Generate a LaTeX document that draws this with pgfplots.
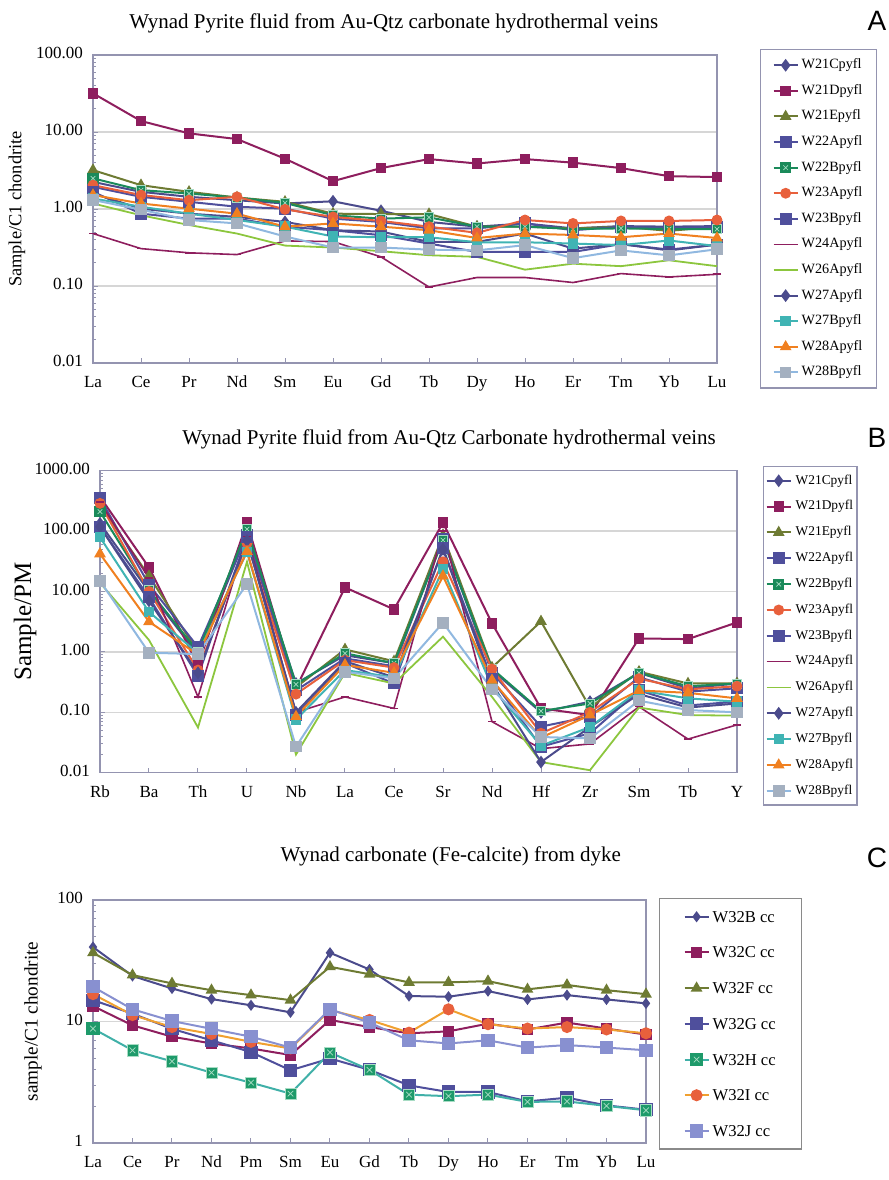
\documentclass[border=0pt]{standalone}
\usepackage{pgfplots}
\pgfplotsset{compat=1.18}
\usepackage{fontspec}
\setmainfont{Liberation Serif}
\newfontfamily\panelfont{Liberation Sans}

\definecolor{framec}{HTML}{9494B0}
\definecolor{gridc}{HTML}{D6D6D6}
\definecolor{navy}{HTML}{4B4B8C}
\definecolor{maroon}{HTML}{8E1E5E}
\definecolor{olive}{HTML}{6E7B33}
\definecolor{bluesq}{HTML}{4F4F9C}
\definecolor{greensq}{HTML}{1A8A5A}
\definecolor{greenH}{HTML}{1E9A6A}
\definecolor{tealH}{HTML}{40B0A8}
\definecolor{xlight}{HTML}{A8DCC4}
\definecolor{orangered}{HTML}{E8603C}
\definecolor{orangeI}{HTML}{F0A030}
\definecolor{lime}{HTML}{8CC63E}
\definecolor{teal}{HTML}{40B4B4}
\definecolor{orangeA}{HTML}{F08020}
\definecolor{graysq}{HTML}{A4B0C0}
\definecolor{lightblue}{HTML}{90B8E0}
\definecolor{lavender}{HTML}{8890D0}
\definecolor{legC}{HTML}{8A8A8A}

\pgfdeclareplotmark{sqx}{%
  \pgfpathrectangle{\pgfqpoint{-\pgfplotmarksize}{-\pgfplotmarksize}}{\pgfqpoint{2\pgfplotmarksize}{2\pgfplotmarksize}}%
  \pgfusepathqfillstroke
  \pgfsetlinewidth{0.35pt}\pgfsetstrokecolor{xlight}%
  \pgfpathmoveto{\pgfqpoint{-0.5\pgfplotmarksize}{-0.5\pgfplotmarksize}}\pgfpathlineto{\pgfqpoint{0.5\pgfplotmarksize}{0.5\pgfplotmarksize}}%
  \pgfpathmoveto{\pgfqpoint{-0.5\pgfplotmarksize}{0.5\pgfplotmarksize}}\pgfpathlineto{\pgfqpoint{0.5\pgfplotmarksize}{-0.5\pgfplotmarksize}}%
  \pgfusepathqstroke}

\pgfplotsset{
  legend image code/.code={\draw[mark repeat=2,mark phase=2,#1] plot coordinates {(0pt,0pt) (6pt,0pt) (12pt,0pt)};},
  every axis/.append style={scale only axis, clip=false,
    axis line style={draw=framec, line width=0.6pt},
    ymajorgrids, grid style={draw=gridc, line width=0.7pt},
    xtick pos=bottom, ytick pos=left,
    tick style={draw=framec, line width=0.5pt},
    major tick length=2.5pt, minor tick length=1.5pt,
    tick label style={font=\fontsize{8.5}{9}\selectfont},
    typeset ticklabels with strut,
    yticklabel style={xshift=-1.5pt},
    xticklabel style={yshift=-2.5pt},
    legend cell align=left},
  sC/.style={draw=navy, line width=1pt, mark=diamond*, mark size=2.4pt, mark options={solid, fill=navy, draw=navy}},
  sD/.style={draw=maroon, line width=1pt, mark=square*, mark size=2.1pt, mark options={solid, fill=maroon, draw=maroon}},
  sE/.style={draw=olive, line width=1pt, mark=triangle*, mark size=2.4pt, mark options={solid, fill=olive, draw=olive}},
  sAtt/.style={draw=bluesq, line width=1pt, mark=square*, mark size=2.5pt, mark options={solid, fill=bluesq, draw=bluesq}},
  sBtt/.style={draw=greensq, line width=1pt, mark=sqx, mark size=2.3pt, mark options={solid, fill=greensq, draw=greensq}},
  sAth/.style={draw=orangered, line width=1pt, mark=*, mark size=2.2pt, mark options={solid, fill=orangered, draw=orangered}},
  sBth/.style={draw=bluesq, line width=1pt, mark=square*, mark size=2.5pt, mark options={solid, fill=bluesq, draw=bluesq}},
  sAtf/.style={draw=maroon, line width=0.8pt, mark=-, mark size=2pt, mark options={solid, draw=maroon, line width=0.8pt}},
  sAts/.style={draw=lime, line width=0.9pt, no marks},
  sAsv/.style={draw=navy, line width=1pt, mark=diamond*, mark size=2.4pt, mark options={solid, fill=navy, draw=navy}},
  sBsv/.style={draw=teal, line width=1pt, mark=square*, mark size=2.1pt, mark options={solid, fill=teal, draw=teal}},
  sAeg/.style={draw=orangeA, line width=1pt, mark=triangle*, mark size=2.4pt, mark options={solid, fill=orangeA, draw=orangeA}},
  sBeg/.style={draw=lightblue, line width=1pt, mark=square*, mark size=2.4pt, mark options={solid, fill=graysq, draw=graysq}},
}

\begin{document}
\begin{tikzpicture}
\path[use as bounding box] (0,0) rectangle (444.5pt,-590pt);

% ---------------- A
\begin{axis}[ymode=log, at={(46.5pt,-181.5pt)}, anchor=south west, width=312pt, height=154pt,
  xmin=0, xmax=13, xtick={0,...,13},
  xticklabels={La,Ce,Pr,Nd,Sm,Eu,Gd,Tb,Dy,Ho,Er,Tm,Yb,Lu},
  ymin=0.01, ymax=100, ytick={0.01,0.1,1,10,100},
  yticklabels={0.01,0.10,1.00,10.00,100.00},
  title={Wynad Pyrite fluid from Au-Qtz carbonate hydrothermal veins},
  title style={at={(axis description cs:0.482,1.107)}, anchor=center, yshift=-6.5pt, font=\fontsize{10.5}{12}\selectfont},
  ylabel={Sample/C1 chondrite},
  ylabel style={at={(axis description cs:-0.122,0.5)}, anchor=center, font=\fontsize{9.2}{10}\selectfont},
  legend style={at={(1.069,1.019)}, anchor=north west, draw=framec, line width=0.6pt,
    font=\fontsize{7.1}{8}\selectfont, inner xsep=6pt, inner ysep=3.5pt, row sep=4.3pt,
    nodes={inner sep=1pt}, /tikz/every odd column/.append style={column sep=0.5pt}}]
\addplot[sC] coordinates {(0,2.25)(1,1.67)(2,1.44)(3,1.30)(4,1.18)(5,1.26)(6,0.95)(7,0.68)(8,0.59)(9,0.65)(10,0.56)(11,0.60)(12,0.59)(13,0.60)};
\addlegendentry{W21Cpyfl}
\addplot[sD] coordinates {(0,31.8)(1,13.9)(2,9.6)(3,8.1)(4,4.5)(5,2.3)(6,3.4)(7,4.45)(8,3.9)(9,4.45)(10,4.0)(11,3.4)(12,2.67)(13,2.6)};
\addlegendentry{W21Dpyfl}
\addplot[sE] coordinates {(0,3.2)(1,2.04)(2,1.67)(3,1.41)(4,1.24)(5,0.87)(6,0.86)(7,0.86)(8,0.59)(9,0.59)(10,0.56)(11,0.59)(12,0.52)(13,0.59)};
\addlegendentry{W21Epyfl}
\addplot[sAtt] coordinates {(0,1.94)(1,1.44)(2,1.24)(3,1.07)(4,1.01)(5,0.75)(6,0.68)(7,0.56)(8,0.56)(9,0.65)(10,0.53)(11,0.59)(12,0.56)(13,0.59)};
\addlegendentry{W22Apyfl}
\addplot[sBtt] coordinates {(0,2.5)(1,1.76)(2,1.59)(3,1.41)(4,1.2)(5,0.83)(6,0.75)(7,0.78)(8,0.59)(9,0.59)(10,0.55)(11,0.56)(12,0.55)(13,0.55)};
\addlegendentry{W22Bpyfl}
\addplot[sAth] coordinates {(0,2.04)(1,1.52)(2,1.30)(3,1.44)(4,0.99)(5,0.79)(6,0.70)(7,0.59)(8,0.49)(9,0.72)(10,0.65)(11,0.70)(12,0.70)(13,0.72)};
\addlegendentry{W23Apyfl}
\addplot[sBth] coordinates {(0,1.67)(1,0.87)(2,0.75)(3,0.75)(4,0.59)(5,0.53)(6,0.457)(7,0.356)(8,0.277)(9,0.277)(10,0.277)(11,0.35)(12,0.297)(13,0.345)};
\addlegendentry{W23Bpyfl}
\addplot[sAtf] coordinates {(0,0.48)(1,0.306)(2,0.27)(3,0.256)(4,0.385)(5,0.378)(6,0.239)(7,0.097)(8,0.129)(9,0.129)(10,0.111)(11,0.145)(12,0.131)(13,0.142)};
\addlegendentry{W24Apyfl}
\addplot[sAts] coordinates {(0,1.18)(1,0.83)(2,0.62)(3,0.48)(4,0.335)(5,0.316)(6,0.283)(7,0.251)(8,0.239)(9,0.163)(10,0.195)(11,0.181)(12,0.216)(13,0.181)};
\addlegendentry{W26Apyfl}
\addplot[sAsv] coordinates {(0,1.59)(1,1.01)(2,0.87)(3,0.79)(4,0.68)(5,0.53)(6,0.51)(7,0.374)(8,0.374)(9,0.48)(10,0.306)(11,0.35)(12,0.29)(13,0.345)};
\addlegendentry{W27Apyfl}
\addplot[sBsv] coordinates {(0,1.37)(1,1.07)(2,0.87)(3,0.72)(4,0.59)(5,0.44)(6,0.43)(7,0.43)(8,0.37)(9,0.37)(10,0.356)(11,0.34)(12,0.39)(13,0.33)};
\addlegendentry{W27Bpyfl}
\addplot[sAeg] coordinates {(0,1.52)(1,1.18)(2,1.01)(3,0.87)(4,0.59)(5,0.65)(6,0.59)(7,0.53)(8,0.42)(9,0.48)(10,0.46)(11,0.43)(12,0.48)(13,0.42)};
\addlegendentry{W28Apyfl}
\addplot[sBeg] coordinates {(0,1.31)(1,0.98)(2,0.72)(3,0.65)(4,0.44)(5,0.316)(6,0.316)(7,0.297)(8,0.29)(9,0.34)(10,0.23)(11,0.29)(12,0.25)(13,0.30)};
\addlegendentry{W28Bpyfl}
\end{axis}

% ---------------- B
\begin{axis}[ymode=log, at={(50pt,-386.35pt)}, anchor=south west, width=318.5pt, height=151pt,
  xmin=0, xmax=13, xtick={0,...,13},
  xticklabels={Rb,Ba,Th,U,Nb,La,Ce,Sr,Nd,Hf,Zr,Sm,Tb,Y},
  ymin=0.01, ymax=1000, ytick={0.01,0.1,1,10,100,1000},
  yticklabels={0.01,0.10,1.00,10.00,100.00,1000.00},
  title={Wynad Pyrite fluid from Au-Qtz Carbonate hydrothermal veins},
  title style={at={(axis description cs:0.548,1.108)}, anchor=center, yshift=-6.5pt, font=\fontsize{10.5}{12}\selectfont},
  ylabel={Sample/PM},
  ylabel style={at={(axis description cs:-0.1177,0.5)}, anchor=center, font=\fontsize{12.5}{13}\selectfont},
  legend style={at={(1.041,1.0156)}, anchor=north west, draw=framec, line width=0.6pt,
    font=\fontsize{6.7}{7.5}\selectfont, inner xsep=1pt, inner ysep=3pt, row sep=4.7pt,
    nodes={inner sep=1pt}, /tikz/every odd column/.append style={column sep=1pt}}]
\addplot[sC] coordinates {(0,134)(1,10)(2,0.9)(3,90)(4,0.3)(5,0.88)(6,0.65)(7,80)(8,0.5)(9,0.1)(10,0.15)(11,0.45)(12,0.25)(13,0.3)};
\addlegendentry{W21Cpyfl}
\addplot[sD] coordinates {(0,370)(1,25)(2,0.6)(3,138)(4,0.25)(5,11.7)(6,5.06)(7,138)(8,2.97)(9,0.116)(10,0.09)(11,1.67)(12,1.63)(13,3.08)};
\addlegendentry{W21Dpyfl}
\addplot[sE] coordinates {(0,270)(1,18)(2,1.0)(3,100)(4,0.26)(5,1.1)(6,0.7)(7,85)(8,0.55)(9,3.2)(10,0.12)(11,0.47)(12,0.3)(13,0.3)};
\addlegendentry{W21Epyfl}
\addplot[sAtt] coordinates {(0,350)(1,13)(2,1.2)(3,85)(4,0.23)(5,0.78)(6,0.58)(7,75)(8,0.45)(9,0.058)(10,0.085)(11,0.38)(12,0.22)(13,0.25)};
\addlegendentry{W22Apyfl}
\addplot[sBtt] coordinates {(0,210)(1,10.5)(2,1.0)(3,108)(4,0.29)(5,0.95)(6,0.65)(7,71)(8,0.53)(9,0.105)(10,0.14)(11,0.45)(12,0.27)(13,0.3)};
\addlegendentry{W22Bpyfl}
\addplot[sAth] coordinates {(0,288)(1,10)(2,0.5)(3,63)(4,0.2)(5,0.73)(6,0.55)(7,31)(8,0.52)(9,0.045)(10,0.1)(11,0.36)(12,0.24)(13,0.27)};
\addlegendentry{W23Apyfl}
\addplot[sBth] coordinates {(0,118)(1,8)(2,0.4)(3,80)(4,0.09)(5,0.65)(6,0.3)(7,52)(8,0.35)(9,0.027)(10,0.045)(11,0.23)(12,0.13)(13,0.15)};
\addlegendentry{W23Bpyfl}
\addplot[sAtf] coordinates {(0,300)(1,16.6)(2,0.18)(3,81)(4,0.10)(5,0.18)(6,0.116)(7,100)(8,0.07)(9,0.025)(10,0.03)(11,0.124)(12,0.036)(13,0.062)};
\addlegendentry{W24Apyfl}
\addplot[sAts] coordinates {(0,14)(1,1.57)(2,0.056)(3,31)(4,0.02)(5,0.45)(6,0.30)(7,1.79)(8,0.18)(9,0.015)(10,0.011)(11,0.12)(12,0.09)(13,0.088)};
\addlegendentry{W26Apyfl}
\addplot[sAsv] coordinates {(0,118)(1,7)(2,0.45)(3,70)(4,0.1)(5,0.7)(6,0.38)(7,50)(8,0.3)(9,0.015)(10,0.057)(11,0.2)(12,0.12)(13,0.14)};
\addlegendentry{W27Apyfl}
\addplot[sBsv] coordinates {(0,79)(1,4.6)(2,0.95)(3,45)(4,0.076)(5,0.5)(6,0.38)(7,23.5)(8,0.26)(9,0.028)(10,0.057)(11,0.23)(12,0.17)(13,0.15)};
\addlegendentry{W27Bpyfl}
\addplot[sAeg] coordinates {(0,42)(1,3.16)(2,0.9)(3,46)(4,0.085)(5,0.61)(6,0.45)(7,18)(8,0.34)(9,0.038)(10,0.09)(11,0.23)(12,0.21)(13,0.17)};
\addlegendentry{W28Apyfl}
\addplot[sBeg] coordinates {(0,15)(1,0.97)(2,0.92)(3,13.3)(4,0.027)(5,0.47)(6,0.365)(7,3.04)(8,0.24)(9,0.039)(10,0.037)(11,0.156)(12,0.109)(13,0.10)};
\addlegendentry{W28Bpyfl}
\end{axis}

% ---------------- C
\begin{axis}[ymode=log, at={(46.5pt,-571.5pt)}, anchor=south west, width=276.5pt, height=121.5pt,
  xmin=0, xmax=14, xtick={0,...,14},
  xticklabels={La,Ce,Pr,Nd,Pm,Sm,Eu,Gd,Tb,Dy,Ho,Er,Tm,Yb,Lu},
  ymin=1, ymax=100, ytick={1,10,100}, yticklabels={1,10,100},
  title={Wynad carbonate (Fe-calcite) from dyke},
  title style={at={(axis description cs:0.647,1.185)}, anchor=center, yshift=-6.5pt, font=\fontsize{10.5}{12}\selectfont},
  ylabel={sample/C1 chondrite},
  ylabel style={at={(axis description cs:-0.1085,0.5)}, anchor=center, font=\fontsize{9.6}{10}\selectfont},
  legend style={at={(1.0235,1.008)}, anchor=north west, draw=legC, line width=0.6pt,
    font=\rmfamily\fontsize{8.3}{9}\selectfont, inner xsep=12pt, inner ysep=4.8pt, row sep=9.35pt,
    nodes={inner sep=1pt, text height=6pt, text depth=0.5pt},
    /tikz/every odd column/.append style={column sep=0.5pt}}]
\addplot[sC, mark size=2pt] coordinates {(0,41)(1,23.7)(2,18.7)(3,15.3)(4,13.6)(5,11.9)(6,36.8)(7,26.8)(8,16.2)(9,16)(10,17.8)(11,15.2)(12,16.5)(13,15.2)(14,14.1)};
\addlegendentry{W32B cc}
\addplot[sD, mark size=2.3pt] coordinates {(0,13.4)(1,9.3)(2,7.5)(3,6.6)(4,6.0)(5,5.3)(6,10.3)(7,9.0)(8,8.0)(9,8.3)(10,9.6)(11,8.6)(12,9.8)(13,8.75)(14,7.8)};
\addlegendentry{W32C cc}
\addplot[sE] coordinates {(0,36.8)(1,24.1)(2,20.6)(3,18.1)(4,16.5)(5,15)(6,28.2)(7,24.5)(8,21)(9,21)(10,21.5)(11,18.4)(12,20)(13,18.1)(14,16.8)};
\addlegendentry{W32F cc}
\addplot[sAtt, mark size=2.8pt] coordinates {(0,15)(1,11.6)(2,8.7)(3,7.0)(4,5.6)(5,3.97)(6,4.96)(7,4.0)(8,2.98)(9,2.63)(10,2.63)(11,2.2)(12,2.36)(13,2.04)(14,1.88)};
\addlegendentry{W32G cc}
\addplot[draw=tealH, line width=1pt, mark=sqx, mark size=2.8pt, mark options={solid, fill=greenH, draw=greenH}] coordinates {(0,8.75)(1,5.8)(2,4.7)(3,3.8)(4,3.14)(5,2.55)(6,5.56)(7,4.0)(8,2.5)(9,2.43)(10,2.5)(11,2.18)(12,2.2)(13,2.02)(14,1.86)};
\addlegendentry{W32H cc}
\addplot[draw=orangeI, line width=1pt, mark=*, mark size=2.5pt, mark options={solid, fill=orangered, draw=orangered}] coordinates {(0,16.8)(1,11.3)(2,9.0)(3,7.9)(4,6.8)(5,6.0)(6,12.4)(7,10.3)(8,8.1)(9,12.6)(10,9.5)(11,8.75)(12,9.0)(13,8.6)(14,8.0)};
\addlegendentry{W32I cc}
\addplot[draw=lavender, line width=1pt, mark=square*, mark size=2.8pt, mark options={solid, fill=lavender, draw=lavender}] coordinates {(0,19.3)(1,12.6)(2,10.1)(3,8.7)(4,7.5)(5,6.1)(6,12.6)(7,9.8)(8,7.0)(9,6.6)(10,7.0)(11,6.1)(12,6.4)(13,6.1)(14,5.8)};
\addlegendentry{W32J cc}
\end{axis}

\node[font=\panelfont\fontsize{14}{14}\selectfont] at (438.5pt,-10.5pt) {A};
\node[font=\panelfont\fontsize{14}{14}\selectfont] at (438.5pt,-219pt) {B};
\node[font=\panelfont\fontsize{14}{14}\selectfont] at (438.5pt,-429pt) {C};
\end{tikzpicture}
\end{document}
